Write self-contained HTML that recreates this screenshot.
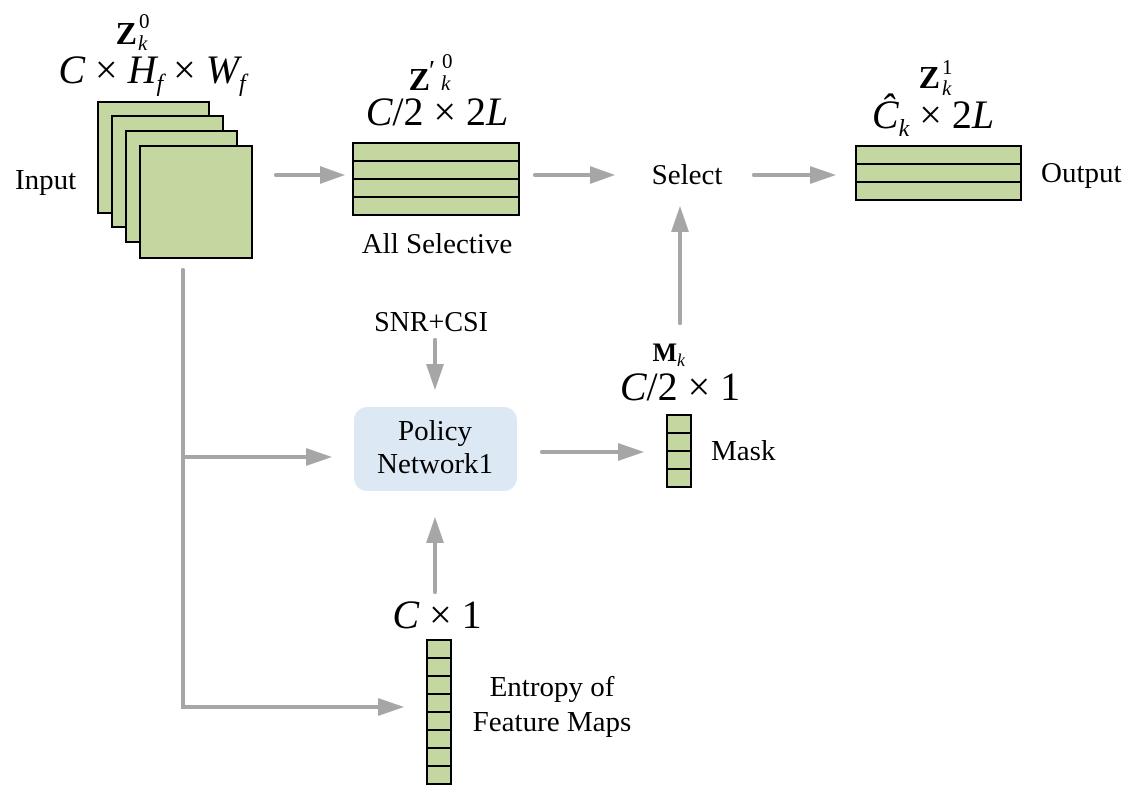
<!DOCTYPE html>
<html><head><meta charset="utf-8"><style>
html,body{margin:0;padding:0;background:#fff;}
svg{display:block;}
</style></head><body>
<svg width="1140" height="786" viewBox="0 0 1140 786" xmlns="http://www.w3.org/2000/svg" font-family="Liberation Serif, DejaVu Serif, serif">
<g fill="#c4d7a0" stroke="#000" stroke-width="2">
<rect x="98" y="102" width="111" height="111"/>
<rect x="112" y="116" width="111" height="111"/>
<rect x="126" y="131" width="111" height="111"/>
<rect x="140" y="146" width="112" height="112"/>
<rect x="353" y="143" width="166" height="72"/>
<rect x="856" y="146" width="165" height="54"/>
<rect x="667" y="415" width="24" height="72"/>
<rect x="427" y="640" width="24" height="144"/>
</g>
<g stroke="#000" stroke-width="2">
<line x1="353" y1="161" x2="519" y2="161"/><line x1="353" y1="179" x2="519" y2="179"/><line x1="353" y1="197" x2="519" y2="197"/>
<line x1="856" y1="164" x2="1021" y2="164"/><line x1="856" y1="182" x2="1021" y2="182"/>
<line x1="667" y1="433" x2="691" y2="433"/><line x1="667" y1="451" x2="691" y2="451"/><line x1="667" y1="469" x2="691" y2="469"/>
<line x1="427" y1="658" x2="451" y2="658"/><line x1="427" y1="676" x2="451" y2="676"/><line x1="427" y1="694" x2="451" y2="694"/><line x1="427" y1="712" x2="451" y2="712"/><line x1="427" y1="730" x2="451" y2="730"/><line x1="427" y1="748" x2="451" y2="748"/><line x1="427" y1="766" x2="451" y2="766"/>
</g>
<rect x="354" y="407" width="163" height="84" rx="13" fill="#dce9f5"/>
<g stroke="#a6a6a6" stroke-width="4" fill="none" stroke-linecap="round">
<line x1="276" y1="175" x2="322" y2="175"/>
<line x1="535" y1="175" x2="592" y2="175"/>
<line x1="754" y1="175" x2="812" y2="175"/>
<line x1="680" y1="323" x2="680" y2="230"/>
<line x1="435" y1="340" x2="435" y2="366"/>
<line x1="542" y1="452" x2="620" y2="452"/>
<line x1="435" y1="592" x2="435" y2="541"/>
<polyline points="183,270 183,707 380,707"/>
<line x1="183" y1="457" x2="308" y2="457"/>
</g>
<g fill="#a6a6a6">
<polygon points="320,166 345,175 320,184"/>
<polygon points="590,166 615,175 590,184"/>
<polygon points="810,166 836,175 810,184"/>
<polygon points="671,232 680,206 689,232"/>
<polygon points="426,364 435,390 444,364"/>
<polygon points="618,443 644,452 618,461"/>
<polygon points="426,543 435,517 444,543"/>
<polygon points="306,448 332,457 306,466"/>
<polygon points="378,698 404,707 378,716"/>
</g>
<g font-family="Liberation Serif, DejaVu Serif, serif">
<text x="137" y="44" font-size="32" font-weight="bold" text-anchor="end">Z</text>
<text x="139" y="28" font-size="21">0</text><text x="138" y="50" font-size="21" font-style="italic">k</text>
<text x="152" y="83" font-size="40" text-anchor="middle"><tspan font-style="italic">C</tspan> × <tspan font-style="italic">H</tspan><tspan font-size="24" dy="8" font-style="italic">f</tspan><tspan dy="-8"> × </tspan><tspan font-style="italic">W</tspan><tspan font-size="24" dy="8" font-style="italic">f</tspan></text>
<text x="430" y="90" font-size="32" font-weight="bold" text-anchor="end">Z</text>
<text x="429" y="80" font-size="28">′</text><text x="442" y="68" font-size="21">0</text><text x="441" y="90" font-size="21" font-style="italic">k</text>
<text x="437" y="125" font-size="40" text-anchor="middle"><tspan font-style="italic">C</tspan>/2 × 2<tspan font-style="italic">L</tspan></text>
<text x="437" y="253" font-size="29" text-anchor="middle">All Selective</text>
<text x="940" y="88" font-size="32" font-weight="bold" text-anchor="end">Z</text>
<text x="942" y="74" font-size="21">1</text><text x="942" y="95" font-size="21" font-style="italic">k</text>
<text x="933" y="128" font-size="40" text-anchor="middle"><tspan font-style="italic">Ĉ</tspan><tspan font-size="24" dy="8" font-style="italic">k</tspan><tspan dy="-8"> × 2</tspan><tspan font-style="italic">L</tspan></text>
<text x="15" y="189" font-size="29">Input</text>
<text x="687" y="184" font-size="29" text-anchor="middle">Select</text>
<text x="1041" y="182" font-size="29">Output</text>
<text x="431" y="331" font-size="28" text-anchor="middle">SNR+CSI</text>
<text x="435" y="440" font-size="29" text-anchor="middle">Policy</text>
<text x="435" y="473" font-size="29" text-anchor="middle">Network1</text>
<text x="677" y="361" font-size="26" font-weight="bold" text-anchor="end">M</text><text x="677" y="366" font-size="18" font-style="italic">k</text>
<text x="680" y="400" font-size="40" text-anchor="middle"><tspan font-style="italic">C</tspan>/2 × 1</text>
<text x="711" y="460" font-size="29">Mask</text>
<text x="437" y="628" font-size="40" text-anchor="middle"><tspan font-style="italic">C</tspan> × 1</text>
<text x="552" y="696" font-size="29" text-anchor="middle">Entropy of</text>
<text x="552" y="731" font-size="29" text-anchor="middle">Feature Maps</text>
</g>
</svg>
</body></html>
